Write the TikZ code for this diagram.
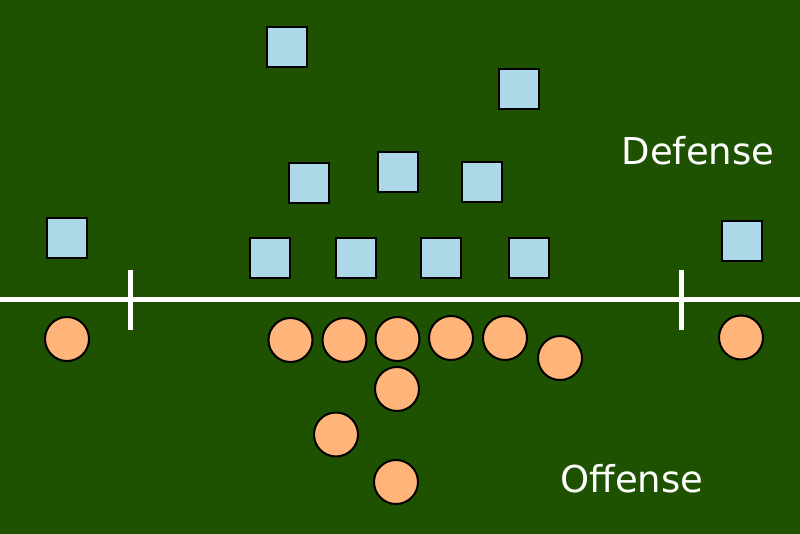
\documentclass[tikz,border=0pt]{standalone}
\usepackage{fontspec}
\setmainfont{DejaVu Sans}
\usetikzlibrary{positioning}

\definecolor{fieldgreen}{RGB}{31,82,0}
\definecolor{defblue}{RGB}{173,216,232}
\definecolor{offpeach}{RGB}{255,180,122}

\begin{document}
\begin{tikzpicture}[
      x=1pt, y=-1pt,
      defender/.style={rectangle, draw=black, line width=2pt, fill=defblue, minimum size=40pt, inner sep=0pt},
      attacker/.style={circle, draw=black, line width=2pt, fill=offpeach, minimum size=44pt, inner sep=0pt},
      label/.style={text=white, font=\fontsize{37}{40}\selectfont, anchor=base, inner sep=0pt},
      yardline/.style={draw=white, line width=5pt}
      ]

      % Field
      \fill[fieldgreen] (0,0) rectangle (800,534);
      \useasboundingbox (0,0) rectangle (800,534);

      % Line of scrimmage
      \coordinate (lineW) at (0,300);
      \coordinate (lineE) at (800,300);
      \coordinate (tickW) at (130.5,300);
      \coordinate (tickE) at (681,300);
      \draw[yardline] (lineW) -- (lineE);
      \draw[yardline] ([yshift=-30pt]tickW) -- ([yshift=30pt]tickW);
      \draw[yardline] ([yshift=-30pt]tickE) -- ([yshift=30pt]tickE);

      % Defense
      \node[defender] (safetyL) at (287,47) {};
      \node[defender] (safetyR) at (519,89) {};
      \node[defender] (lbL) at (309,183) {};
      \node[defender] (lbM) at (398,172) {};
      \node[defender] (lbR) at (482,182) {};
      \node[defender] (dlA) at (270,258) {};
      \node[defender] (dlB) at (356,258) {};
      \node[defender] (dlC) at (441,258) {};
      \node[defender] (dlD) at (529,258) {};
      \node[defender] (cbL) at (67,238.5) {};
      \node[defender] (cbR) at (742,241.5) {};

      % Offense
      \node[attacker] (wrL) at (67,339) {};
      \node[attacker] (olA) at (290.5,340) {};
      \node[attacker] (olB) at (344.5,340) {};
      \node[attacker] (center) at (397.5,339) {};
      \node[attacker] (olD) at (451,338) {};
      \node[attacker] (olE) at (505,338) {};
      \node[attacker] (te) at (560,358) {};
      \node[attacker] (wrR) at (741,337.5) {};
      \node[attacker] (qb) at (397,389) {};
      \node[attacker] (fb) at (336,434.5) {};
      \node[attacker] (rb) at (396,482) {};

      % Labels
      \node[label] (deflabel) at (698,165) {Defense};
      \node[label] (offlabel) at (632,492) {Offense};

\end{tikzpicture}
\end{document}
